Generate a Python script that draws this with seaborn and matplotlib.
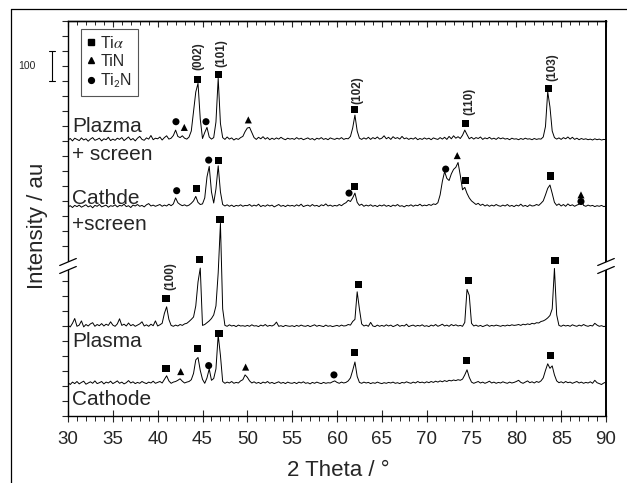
import numpy as np
import pandas as pd
import matplotlib
matplotlib.use("Agg")
import matplotlib.pyplot as plt
import seaborn as sns
from matplotlib.lines import Line2D
from matplotlib.patches import Polygon
from matplotlib.ticker import MultipleLocator

# ---------------- data ----------------
two_theta = 30.0 + 0.25 * np.arange(241)          # 0.25 deg sampling, 30..90

plazma_screen = (
    [0, 5, -3, 6, 2, -2, 7, 0, 4, -4, 3, 8, -1, 2, 6, -3, 4, 1, 9, -2] +
    [3, -1, 6, 2, 8, -2, 4, 10, 0, 5, -3, 6, 12, 2, -1, 7, 3, 15, 1, 6] +
    [4, 10, 0, 8, 14, 3, 6, 15, 33, 12, 8, 14, 6, 3, 10, 30, 95, 160, 189, 70] +
    [5, 25, 42, 10, 3, 8, 60, 206, 55, 8, 2, 10, 3, 7, 0, 5, 2, 8, 12, 28] +
    [40, 42, 25, 8, 2, 9, 4, 11, 3, 8, 1, 6, 2, 7, 3, 9, 4, 1, 6, 3] +
    [5, 2, 8, 3, 6, 1, 4, 7, 2, 5, 0, 6, 3, 8, 2, 5, 1, 7, 4, 2] +
    [6, 3, 8, 2, 5, 4, 12, 40, 83, 30, 6, 2, 7, 3, 9, 2, 8, 4, 10, 3] +
    [6, 14, 4, 9, 2, 11, 5, 8, 3, 12, 4, 7, 2, 6, 3, 8, 1, 5, 2, 7] +
    [3, 6, 1, 7, 4, 2, 8, 3, 9, 2, 12, 4, 14, 6, 11, 5, 16, 33, 18, 4] +
    [9, 3, 8, 5, 10, 2, 7, 4, 9, 3, 6, 2, 8, 4, 7, 3, 5, 1, 6, 3] +
    [4, 1, 5, 2, 6, 3, 4, 1, 5, 2, 4, 3, 10, 45, 161, 110, 30, 8, 3, 7] +
    [2, 8, 4, 10, 3, 9, 2, 6, 1, 5, 2, 4, 1, 3, 0, 4, 1, 3, 0, 2] +
    [1]
)
cathde_screen = (
    [0, 4, -2, 5, 1, 6, -1, 3, 7, 0, 4, -3, 5, 2, 8, 0, 3, 6, -1, 4] +
    [2, 7, 0, 5, 3, 9, 1, 4, -2, 6, 3, 8, 2, 5, 0, 7, 11, 3, 6, 2] +
    [5, 8, 2, 6, 3, 9, 4, 10, 30, 14, 8, 4, 7, 3, 6, 12, 20, 35, 15, 8] +
    [10, 30, 100, 135, 50, 13, 60, 137, 50, 8, 3, 7, 2, 6, 1, 5, 3, 7, 2, 5] +
    [4, 8, 2, 6, 3, 9, 1, 5, 2, 7, 3, 6, 0, 4, 8, 2, 5, 1, 6, 3] +
    [5, 2, 7, 3, 9, 1, 4, 6, 2, 8, 3, 5, 1, 7, 4, 10, 3, 6, 2, 5] +
    [3, 8, 4, 10, 14, 22, 18, 30, 46, 15, 5, 9, 2, 6, 3, 7, 2, 5, 1, 6] +
    [3, 7, 2, 5, 1, 6, 3, 8, 2, 4, 0, 5, 3, 7, 2, 6, 4, 9, 3, 6] +
    [4, 8, 5, 10, 8, 14, 40, 85, 118, 95, 88, 110, 125, 132, 148, 105, 57, 65, 45, 30] +
    [20, 14, 8, 12, 5, 9, 3, 7, 2, 6, 3, 8, 4, 2, 6, 3, 8, 2, 5, 1] +
    [6, 3, 9, 2, 5, 1, 7, 3, 4, 8, 5, 12, 20, 40, 62, 73, 45, 15, 5, 10] +
    [3, 8, 2, 10, 4, 7, 2, 6, 9, 22, 5, 2, 6, 3, 5, 1, 4, 2, 5, 1] +
    [3]
)
plasma = (
    [5, 0, 12, 28, 2, 6, 20, 0, 8, 3, 10, 14, 2, 8, 4, 11, 3, 9, 5, 17] +
    [6, 2, 10, 27, 5, 9, 3, 13, 4, 8, 2, 6, 10, 17, 3, 7, 2, 9, 4, 20] +
    [3, 7, 12, 45, 67, 25, 5, 2, 6, 3, 8, 5, 10, 12, 18, 25, 33, 70, 150, 196] +
    [5, 8, 14, 20, 28, 40, 70, 180, 345, 60, 5, 2, 7, 3, 5, 1, 6, 3, 4, 2] +
    [5, 2, 7, 3, 4, 1, 6, 3, 8, 2, 5, 3, 7, 16, 2, 4, 1, 5, 3, 2] +
    [4, 1, 5, 2, 6, 3, 2, 5, 1, 4, 7, 2, 5, 3, 1, 6, 2, 4, 1, 3] +
    [5, 2, 6, 3, 4, 8, 6, 18, 25, 117, 60, 10, 3, 6, 2, 15, 3, 1, 6, 2] +
    [5, 2, 7, 3, 6, 1, 4, 8, 2, 5, 3, 9, 1, 4, 6, 2, 5, 3, 7, 2] +
    [4, 1, 6, 3, 8, 2, 5, 9, 3, 6, 2, 8, 4, 7, 3, 5, 2, 15, 125, 105] +
    [12, 3, 6, 2, 5, 1, 4, 7, 2, 5, 3, 6, 4, 2, 5, 3, 6, 4, 7, 5] +
    [6, 8, 5, 9, 7, 10, 8, 12, 10, 14, 13, 18, 20, 24, 30, 38, 60, 195, 40, 5] +
    [2, 6, 3, 5, 2, 7, 4, 2, 6, 3, 8, 4, 2, 5, 3, 12, 6, 2, 4, 1] +
    [3]
)
cathode = (
    [4, -2, 6, 1, 8, 0, 5, 9, -1, 3, 7, 2, 10, 1, 4, 8, 0, 6, 3, 9] +
    [1, 5, 10, 2, 6, 0, 4, 11, 3, 7, 1, 5, 2, 8, 4, 1, 6, 3, 9, 2] +
    [5, 8, 3, 15, 27, 10, 2, 6, 8, 12, 17, 9, 3, 6, 8, 14, 35, 80, 88, 45] +
    [15, 2, 20, 50, 12, 18, 50, 163, 95, 8, 2, 6, 3, 8, 2, 5, 3, 10, 14, 30] +
    [22, 10, 3, 7, 2, 5, 1, 6, 3, 8, 2, 5, 1, 4, 7, 2, 5, 1, 6, 3] +
    [2, 5, 1, 6, 3, 7, 2, 4, 0, 5, 2, 6, 3, 1, 5, 2, 4, 3, 7, 10] +
    [5, 2, 6, 3, 5, 10, 20, 45, 73, 25, 5, 2, 6, 3, 5, 1, 4, 2, 6, 3] +
    [1, 4, 2, 5, 3, 6, 2, 4, 1, 5, 3, 7, 4, 2, 6, 3, 8, 4, 6, 3] +
    [7, 4, 8, 5, 9, 6, 10, 7, 11, 8, 12, 10, 13, 11, 14, 12, 16, 30, 47, 22] +
    [6, 2, 5, 8, 3, 6, 2, 5, 9, 3, 6, 2, 5, 3, 7, 4, 2, 6, 3, 5] +
    [8, 12, 5, 2, 6, 10, 4, 7, 3, 8, 5, 10, 20, 45, 67, 52, 60, 30, 10, 4] +
    [7, 3, 8, 4, 6, 2, 5, 8, 3, 6, 2, 5, 3, 7, 2, 12, 4, 1, -2, 3] +
    [6]
)
samples = ["Plazma + screen", "Cathde + screen", "Plasma", "Cathode"]
series = [plazma_screen, cathde_screen, plasma, cathode]

# phase markers: sample index, phase, 2theta, height above the pattern's baseline
marker_sample = [0, 0, 0, 0, 0, 0, 0, 0, 0,
                 1, 1, 1, 1, 1, 1, 1, 1, 1, 1, 1, 1,
                 2, 2, 2, 2, 2, 2,
                 3, 3, 3, 3, 3, 3, 3, 3, 3, 3]
marker_phase = ["Ti2N", "TiN", "Tia", "Ti2N", "Tia", "TiN", "Tia", "Tia", "Tia",
                "Ti2N", "Tia", "Ti2N", "Tia", "Ti2N", "Tia", "Ti2N", "TiN", "Tia", "Tia", "TiN", "Ti2N",
                "Tia", "Tia", "Tia", "Tia", "Tia", "Tia",
                "Tia", "TiN", "Tia", "Ti2N", "Tia", "TiN", "Ti2N", "Tia", "Tia", "Tia"]
marker_theta = [42.04, 42.97, 44.42, 45.39, 46.76, 50.11, 62.0, 74.35, 83.57,
                42.12, 44.35, 45.69, 46.76, 61.34, 62.0, 72.12, 73.41, 74.35, 83.83, 87.21, 87.21,
                40.93, 44.64, 46.95, 62.38, 74.64, 84.31,
                40.93, 42.57, 44.46, 45.69, 46.84, 49.81, 59.66, 62.0, 74.46, 83.86]
marker_height = [61, 42, 202, 61, 218, 67, 103, 56, 172,
                 54, 60, 156, 156, 46, 68, 126, 171, 87, 103, 40, 18,
                 94, 226, 359, 140, 154, 221,
                 52, 41, 117, 61, 169, 56, 30, 104, 78, 94]

miller_labels = ["(002)", "(101)", "(102)", "(110)", "(103)", "(100)"]
miller_sample = [0, 0, 0, 0, 0, 2]
miller_theta = [44.5, 47.15, 62.3, 74.72, 84.0, 41.4]
miller_height = [278, 289, 167, 128, 242, 171]

curve_text = ["Plazma", "+ screen", "Cathde", "+screen", "Plasma", "Cathode"]
x_ticks = [30, 35, 40, 45, 50, 55, 60, 65, 70, 75, 80, 85, 90]

# ---------------- layout / style ----------------
W, H = 627, 483
AX_L, AX_R, AX_T, AX_B = 68, 606, 20.7, 416
UPP = 10.0 / 3.0                     # data units per pixel
Y_TOP = (AX_B - AX_T) * UPP
stack_offsets = [920, 697, 297, 107]


def py(px):
    return (AX_B - px) * UPP


sns.set_style("ticks")
plt.rcParams["font.family"] = ["Liberation Sans", "DejaVu Sans"]
plt.rcParams["mathtext.fontset"] = "stix"

fig = plt.figure(figsize=(W / 100, H / 100), dpi=100)
ax = fig.add_axes([AX_L / W, 1 - AX_B / H, (AX_R - AX_L) / W, (AX_B - AX_T) / H])

rows = []
for name, vals, off in zip(samples, series, stack_offsets):
    assert len(vals) == len(two_theta)
    for t, v in zip(two_theta, vals):
        rows.append((name, t, v + off))
df = pd.DataFrame(rows, columns=["sample", "two_theta", "y"])

sns.lineplot(data=df, x="two_theta", y="y", units="sample", estimator=None,
             color="black", linewidth=0.7, ax=ax, legend=False)

mdf = pd.DataFrame({
    "two_theta": marker_theta,
    "y": [h + stack_offsets[s] for h, s in zip(marker_height, marker_sample)],
    "phase": marker_phase,
})
sns.scatterplot(data=mdf, x="two_theta", y="y", style="phase",
                markers={"Tia": "s", "TiN": "^", "Ti2N": "o"},
                color="black", s=26, linewidth=0, ax=ax, legend=False, zorder=5)

for lab, s, t, h in zip(miller_labels, miller_sample, miller_theta, miller_height):
    ax.text(t, h + stack_offsets[s], lab, rotation=90, ha="center", va="center",
            fontsize=8.5, fontweight="bold")

# curve labels
label_px = [132, 160.5, 204, 230, 347, 405]
for txt, ypx in zip(curve_text, label_px):
    ax.text(30.45, py(ypx), txt, fontsize=15, ha="left", va="baseline")

ax.set_xlim(30, 90)
ax.set_ylim(0, Y_TOP)
ax.set_xticks(x_ticks)
ax.set_xticklabels([str(v) for v in x_ticks])
ax.xaxis.set_minor_locator(MultipleLocator(1))
ax.tick_params(axis="x", which="major", direction="inout", length=8.5, width=0.8,
               labelsize=13.5, pad=6.5)
ax.tick_params(axis="x", which="minor", direction="out", length=3.5, width=0.7)

yt = [50 * k for k in range(10)] + [Y_TOP - 50 * k for k in range(16)]
ax.set_yticks(yt)
ax.set_yticklabels([])
ax.tick_params(axis="y", which="major", direction="out", length=4.5, width=0.8)
ax.set_xlabel("")
ax.set_ylabel("")

sec = ax.secondary_xaxis("top")
sec.set_xticks(x_ticks)
sec.xaxis.set_minor_locator(MultipleLocator(1))
sec.tick_params(which="major", direction="in", length=4.5, width=0.8, labeltop=False)
sec.tick_params(which="minor", direction="in", length=3, width=0.7)
sec.spines["top"].set_linewidth(1.0)

for sp in ax.spines.values():
    sp.set_linewidth(1.0)
    sp.set_color("black")
ax.spines["right"].set_linewidth(1.4)

# axis break marks on both spines
for xc in (30.0, 90.0):
    dx = 8.3 / 8.967
    l1 = ([xc - dx, xc + dx], [py(273.5), py(266.5)])
    l2 = ([xc - dx, xc + dx], [py(265.5), py(258.5)])
    gap = Polygon([[xc - dx, l1[1][0]], [xc + dx, l1[1][1]],
                   [xc + dx, l2[1][1]], [xc - dx, l2[1][0]]],
                  closed=True, facecolor="white", edgecolor="none",
                  clip_on=False, zorder=6)
    ax.add_patch(gap)
    for xs, ys in (l1, l2):
        ax.plot(xs, ys, color="black", lw=0.9, clip_on=False, zorder=7)

# scale bar (100 units)
bx = 30 - (AX_L - 52.3) / 8.967
cap = 3.0 / 8.967
ax.plot([bx, bx], [100 * 0 + py(80.7), py(80.7) + 100], color="black", lw=0.8, clip_on=False)
for yy in (py(80.7), py(80.7) + 100):
    ax.plot([bx - cap, bx + cap], [yy, yy], color="black", lw=0.8, clip_on=False)
ax.text(bx - 1.9, py(80.7) + 50, "100", fontsize=7.5, ha="right", va="center")

# legend
handles = [
    Line2D([], [], marker="s", ls="", color="black", markersize=4.2),
    Line2D([], [], marker="^", ls="", color="black", markersize=4.2),
    Line2D([], [], marker="o", ls="", color="black", markersize=4.2),
]
leg = ax.legend(handles, [r"Ti$\alpha$", "TiN", r"Ti$_\mathsf{2}$N"],
                loc="upper left",
                bbox_to_anchor=((81 - AX_L) / (AX_R - AX_L), 1 - (29 - AX_T) / (AX_B - AX_T)),
                fontsize=11.5, frameon=True, fancybox=False, framealpha=1,
                edgecolor="#555555", handlelength=0.5, handletextpad=0.35,
                borderpad=0.35, labelspacing=0.2, borderaxespad=0)
leg.get_frame().set_linewidth(0.8)

# axis titles
fig.text(338 / W, 1 - 476 / H, "2 Theta / °", fontsize=16, ha="center", va="baseline")
fig.text(38 / W, 1 - 226 / H, "Intensity / au", fontsize=16, ha="center", va="center",
         rotation=90)

# outer frame
fig.add_artist(Line2D([11 / W, 11 / W], [0, 1 - 9 / H], transform=fig.transFigure,
                      color="black", lw=0.9))
fig.add_artist(Line2D([11 / W, 1], [1 - 9 / H, 1 - 9 / H], transform=fig.transFigure,
                      color="black", lw=0.9))

fig.savefig("out.png", dpi=100)
